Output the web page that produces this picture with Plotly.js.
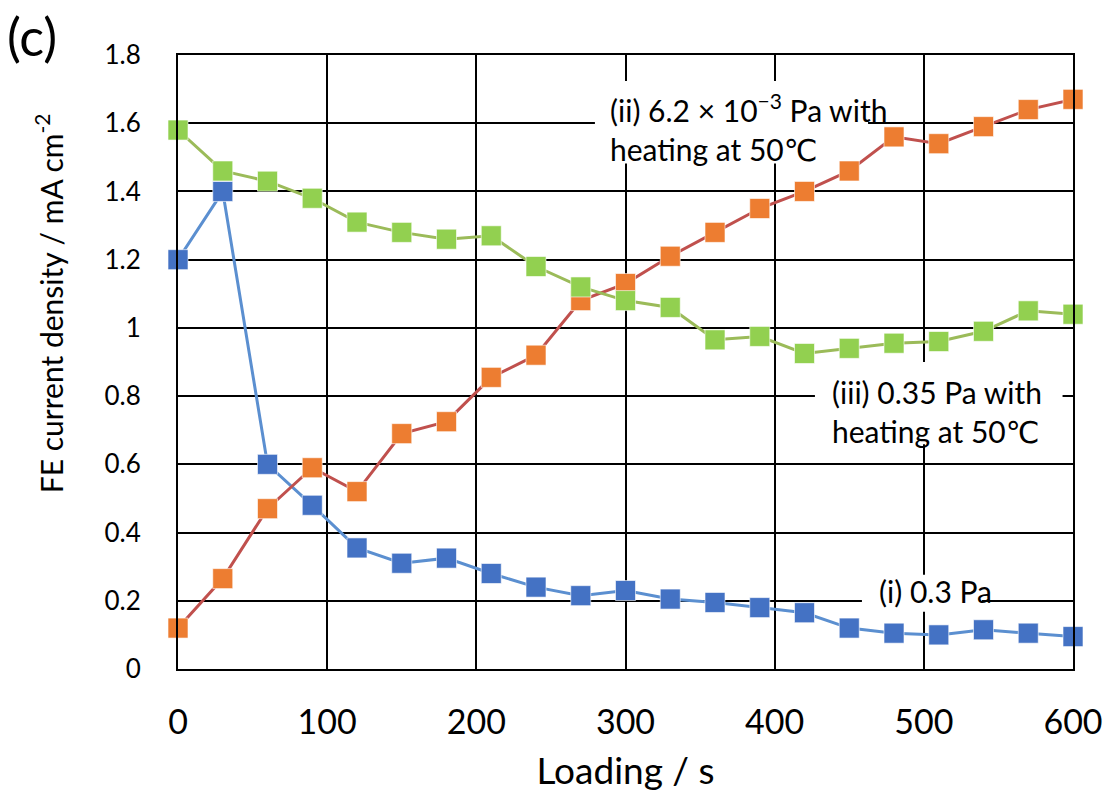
<!DOCTYPE html>
<html>
<head>
<meta charset="utf-8">
<script src="https://cdn.plot.ly/plotly-3.0.1.min.js"></script>
<style>html,body{margin:0;padding:0;background:#fff;}#chart{width:1106px;height:797px;}</style>
</head>
<body>
<div id="chart"></div>
<script>
const loading = [0,30,60,90,120,150,180,210,240,270,300,330,360,390,420,450,480,510,540,570,600];
const series_i = [1.20,1.40,0.60,0.48,0.355,0.31,0.325,0.28,0.24,0.215,0.23,0.205,0.195,0.18,0.165,0.12,0.105,0.10,0.115,0.105,0.095];
const series_ii = [0.12,0.265,0.47,0.59,0.52,0.69,0.725,0.855,0.92,1.08,1.13,1.21,1.28,1.35,1.40,1.46,1.56,1.54,1.59,1.64,1.67];
const series_iii = [1.58,1.46,1.43,1.38,1.31,1.28,1.26,1.27,1.18,1.12,1.08,1.06,0.965,0.975,0.925,0.94,0.955,0.96,0.99,1.05,1.04];
const yTickVals = [0,0.2,0.4,0.6,0.8,1.0,1.2,1.4,1.6,1.8];
const yTickText = ["0","0.2","0.4","0.6","0.8","1","1.2","1.4","1.6","1.8"];
const xTickVals = [0,100,200,300,400,500,600];
const xTickText = ["0","100","200","300","400","500","600"];
const seriesNames = ["(i) 0.3 Pa","(ii) 6.2 × 10<sup>−3</sup> Pa with<br>heating at 50℃","(iii) 0.35 Pa with<br>heating at 50℃"];

const FONT = "Lato, 'Open Sans', 'DejaVu Sans', sans-serif";
function tr(y, name, lineColor, markerColor){
  return {x: loading, y: y, name: name, type:'scatter', mode:'lines+markers',
    line:{color:lineColor, width:3},
    marker:{symbol:'square', size:20, color:markerColor, line:{color:'rgba(255,255,255,0.6)', width:1}},
    showlegend:false, cliponaxis:false};
}
const data = [
  tr(series_i, seriesNames[0], '#5b8fd0', '#4472C4'),
  tr(series_ii, seriesNames[1], '#c0504d', '#ED7D31'),
  tr(series_iii, seriesNames[2], '#9BBB59', '#92D050')
];
function box(x0,x1,y0,y1){
  return {type:'rect', xref:'x', yref:'y', x0:x0, x1:x1, y0:y0, y1:y1,
    fillcolor:'#fff', line:{width:0}, layer:'between'};
}
const layout = {
  width:1106, height:797,
  margin:{l:178, r:33, t:55, b:128},
  paper_bgcolor:'#fff', plot_bgcolor:'#fff',
  font:{family:FONT, color:'#000'},
  xaxis:{range:[0,600], tickvals:xTickVals, ticktext:xTickText,
    showgrid:true, gridcolor:'#000', gridwidth:2, zeroline:false,
    showline:true, mirror:true, linecolor:'#000', linewidth:2,
    ticks:'', ticklabelstandoff:22, tickfont:{size:34, family:FONT},
    title:{text:'Loading / s', font:{size:37, family:FONT}, standoff:18}},
  yaxis:{range:[0,1.8], tickvals:yTickVals, ticktext:yTickText,
    showgrid:true, gridcolor:'#000', gridwidth:2, zeroline:false,
    showline:true, mirror:true, linecolor:'#000', linewidth:2,
    ticks:'', ticklabelstandoff:30, tickfont:{size:26, family:FONT}},
  shapes:[
    box(279.5, 462.6, 1.482, 1.724),
    box(427, 593, 0.659, 0.90),
    box(458.5, 539, 0.168, 0.276)
  ],
  annotations:[
    {xref:'paper', yref:'paper', x:-0.144, y:0.596, xanchor:'center', yanchor:'middle',
     textangle:-90, showarrow:false, text:'FE current density / mA cm<sup>-2</sup>', font:{size:30, family:FONT}},
    {xref:'paper', yref:'paper', x:-0.193, y:1.085, xanchor:'left', yanchor:'top',
     showarrow:false, text:'(c)', font:{size:52, family:FONT}},
    {xref:'x', yref:'y', x:289, y:1.588, xanchor:'left', yanchor:'middle', align:'left',
     showarrow:false, text:seriesNames[1], font:{size:30, family:FONT}, borderpad:0},
    {xref:'x', yref:'y', x:438, y:0.756, xanchor:'left', yanchor:'middle', align:'left',
     showarrow:false, text:seriesNames[2], font:{size:30, family:FONT}, borderpad:0},
    {xref:'x', yref:'y', x:469, y:0.228, xanchor:'left', yanchor:'middle', align:'left',
     showarrow:false, text:seriesNames[0], font:{size:30, family:FONT}, borderpad:0}
  ]
};
Plotly.newPlot('chart', data, layout, {displayModeBar:false, staticPlot:true});
</script>
</body>
</html>
